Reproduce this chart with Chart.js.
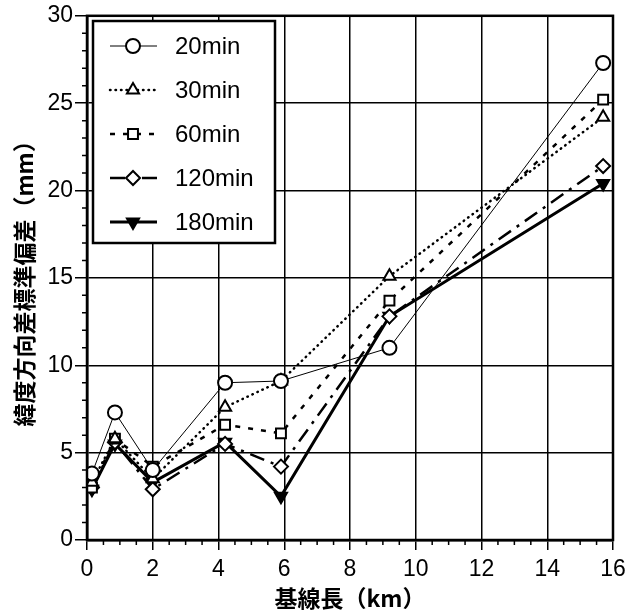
<!DOCTYPE html>
<html lang="ja">
<head>
<meta charset="UTF-8">
<title>緯度方向差標準偏差</title>
<script src="https://cdn.jsdelivr.net/npm/chart.js"></script>
<style>
  html, body { margin: 0; padding: 0; background: #fff; }
  #wrap { width: 644px; height: 612px; }
</style>
</head>
<body>
<div id="wrap"><canvas id="chart" width="644" height="612"></canvas></div>
<script>
// 基線長 (km)
const baseline = [0.15, 0.85, 2.0, 4.2, 5.9, 9.2, 15.7];

// 各観測時間の緯度方向差標準偏差 (mm)
const labels = ['20min', '30min', '60min', '120min', '180min'];
const sd20 = [3.8, 7.3, 4.0, 9.0, 9.1, 11.0, 27.3];
const sd30 = [3.3, 5.8, 3.5, 7.6, 9.1, 15.1, 24.2];
const sd60 = [3.0, 5.8, 4.2, 6.6, 6.1, 13.7, 25.2];
const sd120 = [3.0, 5.6, 2.9, 5.5, 4.2, 12.8, 21.4];
const sd180 = [2.9, 5.5, 3.3, 5.6, 2.5, 12.8, 20.4];

const toXY = vals => vals.map((v, i) => ({ x: baseline[i], y: v }));

// 線種とマーカー
const styles = [
  { width: 1, dash: [], cap: 'butt', point: 'circle', rot: 0, r: 7, fill: '#fff' },
  { width: 2.5, dash: [0.5, 5], cap: 'round', point: 'triangle', rot: 0, r: 7, fill: '#fff' },
  { width: 2.5, dash: [5, 8], cap: 'butt', point: 'rect', rot: 0, r: 7, fill: '#fff' },
  { width: 2.5, dash: [15, 7, 3, 7], cap: 'butt', point: 'rectRot', rot: 0, r: 7, fill: '#fff' },
  { width: 3, dash: [], cap: 'butt', point: 'triangle', rot: 180, r: 7, fill: '#000' }
];

const series = [sd20, sd30, sd60, sd120, sd180];
const datasets = series.map((vals, i) => ({
  label: labels[i],
  data: toXY(vals),
  borderColor: '#000',
  borderWidth: styles[i].width,
  borderDash: styles[i].dash,
  borderCapStyle: styles[i].cap,
  pointStyle: styles[i].point,
  rotation: styles[i].rot,
  pointRadius: styles[i].r,
  pointBorderWidth: 2,
  pointBackgroundColor: styles[i].fill,
  pointBorderColor: '#000',
  tension: 0,
  fill: false
}));

// 枠・副目盛・凡例
const decor = {
  id: 'decor',
  afterDatasetsDraw(chart) {
    const { ctx, chartArea: a, scales: { x, y } } = chart;
    ctx.save();
    ctx.strokeStyle = '#000';
    ctx.setLineDash([]);

    // 副目盛 (外向き)
    ctx.lineWidth = 1.5;
    ctx.beginPath();
    for (let v = 0.5; v < 16; v += 0.5) {
      if (v % 2 === 0) continue;
      const px = x.getPixelForValue(v);
      ctx.moveTo(px, a.bottom);
      ctx.lineTo(px, a.bottom + 5);
    }
    for (let v = 1; v < 30; v++) {
      if (v % 5 === 0) continue;
      const py = y.getPixelForValue(v);
      ctx.moveTo(a.left, py);
      ctx.lineTo(a.left - 5, py);
    }
    ctx.stroke();

    // 外枠
    ctx.lineWidth = 2.5;
    ctx.strokeRect(a.left, a.top, a.right - a.left, a.bottom - a.top);

    // 凡例
    const bx = 93, by = 21, bw = 182, bh = 222;
    ctx.fillStyle = '#fff';
    ctx.fillRect(bx, by, bw, bh);
    ctx.lineWidth = 2.5;
    ctx.strokeRect(bx, by, bw, bh);

    chart.data.datasets.forEach((ds, i) => {
      const cy = 46 + i * 44;
      const st = styles[i];
      ctx.lineWidth = st.width;
      ctx.lineCap = st.cap;
      ctx.setLineDash(st.dash);
      ctx.beginPath();
      ctx.moveTo(110, cy);
      ctx.lineTo(157, cy);
      ctx.stroke();
      ctx.setLineDash([]);
      ctx.lineCap = 'butt';
      ctx.fillStyle = st.fill;
      ctx.lineWidth = 2;
      Chart.helpers.drawPoint(ctx, {
        pointStyle: st.point, rotation: st.rot, radius: st.r, borderWidth: 2
      }, 133, cy);
      ctx.fillStyle = '#000';
      ctx.font = '24px "Liberation Sans", Arial, sans-serif';
      ctx.textBaseline = 'middle';
      ctx.textAlign = 'left';
      ctx.fillText(ds.label, 175, cy + 1);
    });
    ctx.restore();
  }
};

const tickFont = { family: '"Liberation Sans", Arial, sans-serif', size: 23 };
const titleFont = { family: '"Noto Sans CJK JP", sans-serif', size: 23, weight: 'bold' };

new Chart(document.getElementById('chart'), {
  type: 'line',
  data: { datasets },
  options: {
    responsive: false,
    animation: false,
    layout: { padding: { top: 15, right: 31, left: 0, bottom: 0 } },
    plugins: { legend: { display: false }, tooltip: { enabled: false } },
    scales: {
      x: {
        type: 'linear',
        min: 0, max: 16,
        ticks: { stepSize: 2, color: '#000', font: tickFont, padding: 6, maxRotation: 0 },
        grid: { color: '#000', lineWidth: 1.5, tickLength: 10, tickColor: '#000' },
        border: { color: '#000', width: 2.5 },
        title: { display: true, text: '基線長（km）', color: '#000', font: titleFont, padding: { top: 0, bottom: 0 } },
        afterFit(scale) { scale.height = 72; }
      },
      y: {
        min: 0, max: 30,
        ticks: { stepSize: 5, color: '#000', font: tickFont, padding: 2 },
        grid: { color: '#000', lineWidth: 1.5, tickLength: 12, tickColor: '#000' },
        border: { color: '#000', width: 2.5 },
        title: { display: true, text: '緯度方向差標準偏差（mm）', color: '#000', font: titleFont, padding: { top: 10, bottom: 0 } },
        afterFit(scale) { scale.width = 87; }
      }
    }
  },
  plugins: [decor]
});
</script>
</body>
</html>
